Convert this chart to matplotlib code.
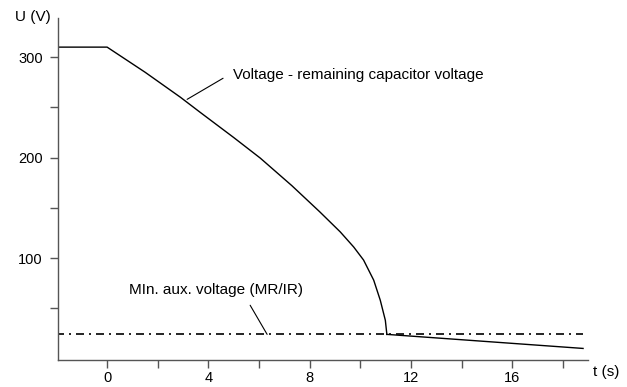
import matplotlib.pyplot as plt

plt.rcParams['font.family'] = ['Liberation Sans', 'DejaVu Sans']

# remaining capacitor voltage
t_cap = [-2, 0, 1.5, 2.9, 3.68, 5.0, 6.05, 7.3, 8.4, 9.21, 9.74, 10.13, 10.53, 10.79, 10.99, 11.05]
u_cap = [310, 310, 285, 260, 245, 220, 199.5, 172, 146, 126, 111, 98, 78, 58, 38, 24]
# after switchover
t_tail = [11.05, 18.8]
u_tail = [24, 10]
# minimum aux. voltage
t_min = [-2, 18.8]
u_min = [24, 24]

x_major = [0, 4, 8, 12, 16]
x_minor = [2, 6, 10, 14, 18]
y_major = [100, 200, 300]
y_minor = [50, 150, 250]

fig = plt.figure(figsize=(6.27, 3.87), dpi=100)
ax = fig.add_axes([0.0925, 0.0698, 0.8455, 0.8837])

ax.plot(t_cap, u_cap, color='black', lw=1.0)
ax.plot(t_tail, u_tail, color='black', lw=1.0)
ax.plot(t_min, u_min, color='black', lw=1.2, dashes=(4.8, 3, 1.2, 3))

ax.set_xlim(-1.94, 19.0)
ax.set_ylim(-1.5, 339)
ax.set_xticks(x_major)
ax.set_xticks(x_minor, minor=True)
ax.set_yticks(y_major)
ax.set_yticks(y_minor, minor=True)

for s in ['top', 'right']:
    ax.spines[s].set_visible(False)
for s in ['left', 'bottom']:
    ax.spines[s].set_color('#555555')
    ax.spines[s].set_linewidth(1.0)

ax.tick_params(which='both', color='#555555', length=6, width=1.0, labelsize=10.5)
ax.tick_params(axis='y', pad=5)
ax.tick_params(axis='x', pad=2)

fig.text(15 / 627, 1 - 17 / 387, "U (V)", fontsize=11, va='center', ha='left')
fig.text(593 / 627, 1 - 372 / 387, "t (s)", fontsize=11, va='center', ha='left')

# labels with leader lines
ax.text(4.98, 282, "Voltage - remaining capacitor voltage", fontsize=11,
        va='center', ha='left')
ax.annotate('', xy=(3.16, 258), xytext=(4.58, 279),
            arrowprops=dict(arrowstyle='-', color='black', lw=0.8,
                            shrinkA=0, shrinkB=0))
ax.text(0.87, 68, "MIn. aux. voltage (MR/IR)", fontsize=11,
        va='center', ha='left')
ax.annotate('', xy=(6.32, 24), xytext=(5.65, 53),
            arrowprops=dict(arrowstyle='-', color='black', lw=0.8,
                            shrinkA=0, shrinkB=0))

fig.savefig("out.png", dpi=100)
